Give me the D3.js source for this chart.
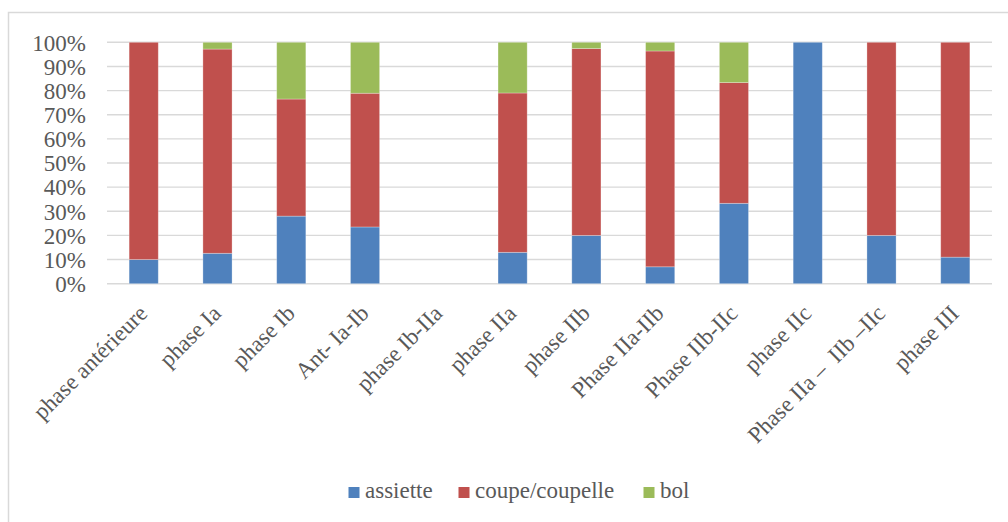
<!DOCTYPE html>
<html><head><meta charset="utf-8">
<script src="https://cdn.jsdelivr.net/npm/d3@7"></script>
<style>
html,body{margin:0;padding:0;background:#fff;}
svg text{font-family:"Liberation Serif","Times New Roman",serif;fill:#595959;white-space:pre;}
</style></head><body>
<svg id="chart" width="1008" height="522"></svg>
<script>
const categories = ["phase antérieure","phase Ia","phase Ib","Ant- Ia-Ib","phase Ib-IIa","phase IIa","phase IIb","Phase IIa-IIb","Phase IIb-IIc","phase IIc","Phase IIa –  IIb –IIc","phase III"];
const seriesNames = ["assiette","coupe/coupelle","bol"];
const assiette = [10, 12.6, 28, 23.5, 0, 13, 20, 7, 33.3, 100, 20, 11];
const coupe    = [90, 84.6, 48.5, 55.4, 0, 66, 77.4, 89.4, 50, 0, 80, 89];
const bol      = [0, 2.8, 23.5, 21.1, 0, 21, 2.6, 3.6, 16.7, 0, 0, 0];
const colors = ["#4F81BD","#C0504D","#9BBB59"];
const yTicks = [0,10,20,30,40,50,60,70,80,90,100];

const svg = d3.select("#chart");
// outer frame
svg.append("rect").attr("x",8.5).attr("y",12.5).attr("width",1010).attr("height",530)
  .attr("fill","none").attr("stroke","#d9d9d9").attr("stroke-width",1.5);

const pLeft=107, pRight=992, pTop=42.3, pBottom=283.7;
const x = d3.scaleBand().domain(categories).range([pLeft,pRight]).paddingInner(0.605).paddingOuter(0.3);
const y = d3.scaleLinear().domain([0,100]).range([pBottom,pTop]);

// gridlines
svg.append("g").selectAll("line").data(yTicks).join("line")
  .attr("x1",pLeft).attr("x2",pRight).attr("y1",d=>y(d)).attr("y2",d=>y(d))
  .attr("stroke","#d9d9d9").attr("stroke-width",1.4);

// y axis labels
const yAxis = d3.axisLeft(y).tickValues(yTicks).tickFormat(d=>d+"%").tickSize(0).tickPadding(0);
const ya = svg.append("g").attr("transform",`translate(86,0)`).call(yAxis);
ya.select(".domain").remove();
ya.selectAll("text").attr("font-size",23).attr("fill","#595959").attr("dy","0.34em")
  .style("font-family","'Liberation Serif',serif");

// stack
const rows = categories.map((c,i)=>({cat:c, assiette:assiette[i], "coupe/coupelle":coupe[i], bol:bol[i]}));
const stack = d3.stack().keys(seriesNames)(rows);
svg.append("g").selectAll("g").data(stack).join("g").attr("fill",(d,i)=>colors[i])
  .selectAll("rect").data(d=>d.filter(p=>p[1]-p[0]>0)).join("rect")
  .attr("x",d=>x(d.data.cat)).attr("width",x.bandwidth())
  .attr("y",d=>y(d[1])).attr("height",d=>y(d[0])-y(d[1]))
  .attr("stroke","rgba(255,255,255,0.35)").attr("stroke-width",0.8);

// x labels
const xa = svg.append("g").attr("transform",`translate(0,${pBottom})`)
  .call(d3.axisBottom(x).tickSize(0).tickPadding(0));
xa.select(".domain").remove();
xa.selectAll("text").attr("font-size",23).attr("fill","#595959")
  .attr("text-anchor","end").attr("dy",0).attr("y",0)
  .attr("transform",d=>`translate(5,31) rotate(-45)`)
  .style("font-family","'Liberation Serif',serif");

// legend
const legendX = [348.5, 458.5, 643.5];
const lg = svg.append("g").selectAll("g").data(seriesNames).join("g")
  .attr("transform",(d,i)=>`translate(${legendX[i]},487)`);
lg.append("rect").attr("width",11).attr("height",11).attr("fill",(d,i)=>colors[i]);
lg.append("text").attr("x",16.5).attr("y",11.3).attr("font-size",23).text(d=>d);
</script>
</body></html>
